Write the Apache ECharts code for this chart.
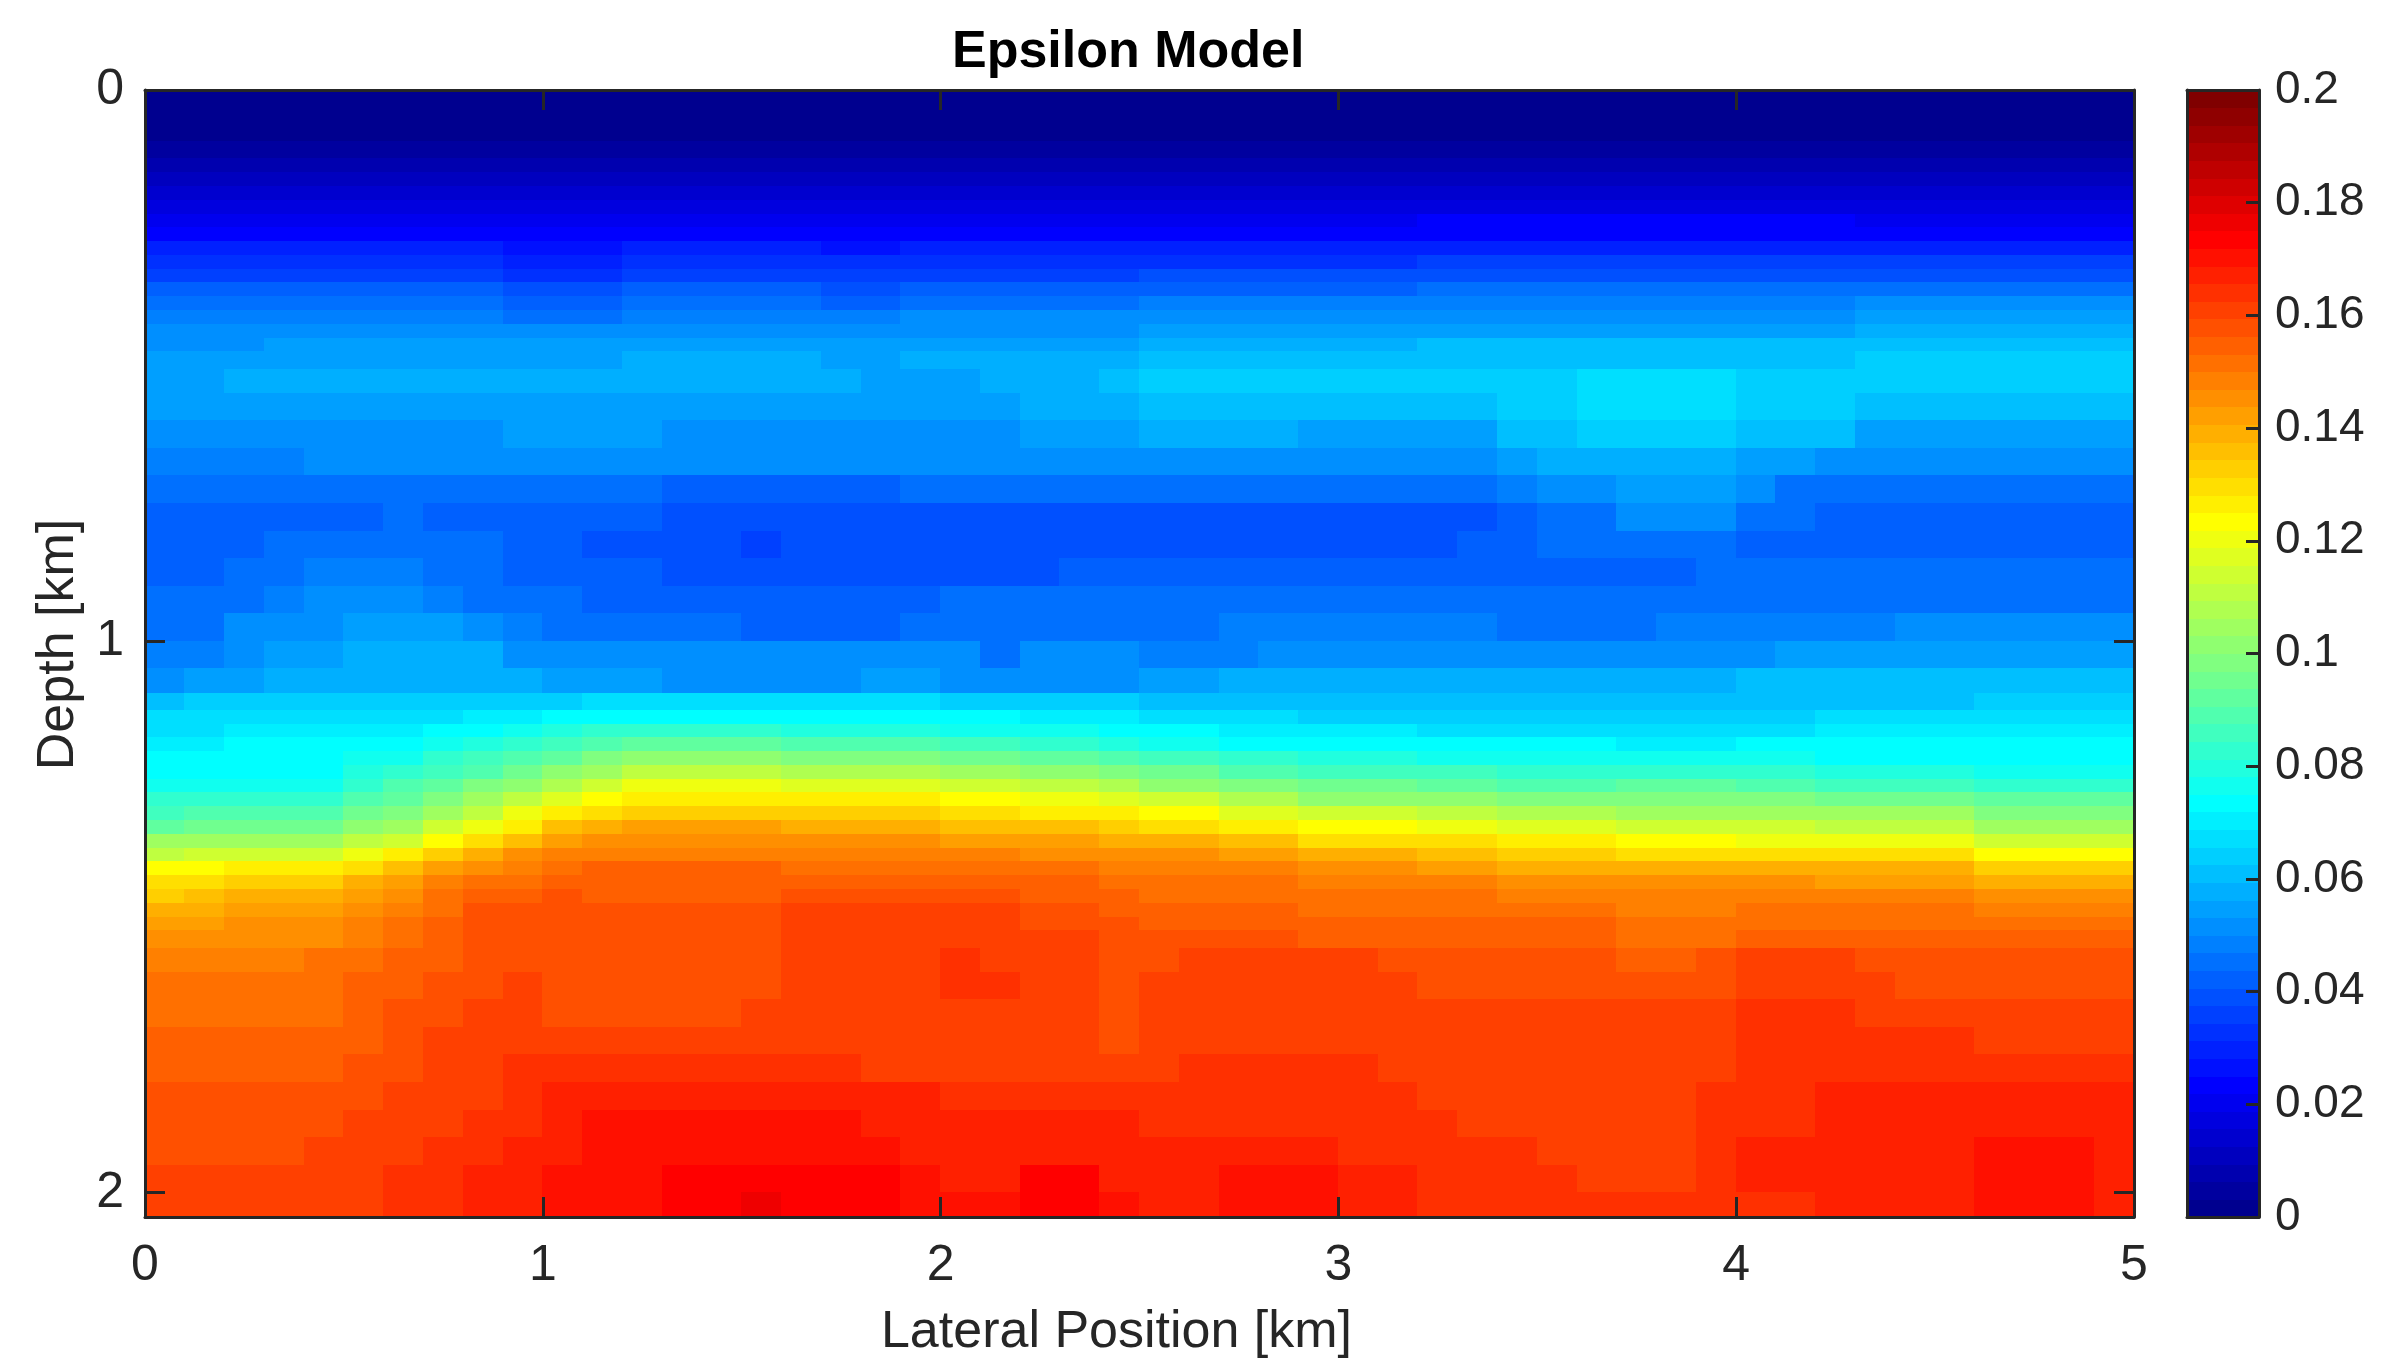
<!DOCTYPE html>
<html>
<head>
<meta charset="utf-8">
<title>Epsilon Model</title>
<script src="https://cdn.jsdelivr.net/npm/echarts@6.0.0/dist/echarts.min.js"></script>
<style>
  html, body { margin: 0; padding: 0; background: #ffffff; }
  #chart { width: 2381px; height: 1367px; }
</style>
</head>
<body>
<div id="chart"></div>
<script>
// Cell centres of the epsilon grid (km); rows are finer where epsilon changes quickly with depth
const lateralKm = [0.05,0.15,0.25,0.35,0.45,0.55,0.65,0.75,0.85,0.95,1.05,1.15,1.25,1.35,1.45,1.55,1.65,1.75,1.85,1.95,2.05,2.15,2.25,2.35,2.45,2.55,2.65,2.75,2.85,2.95,3.05,3.15,3.25,3.35,3.45,3.55,3.65,3.75,3.85,3.95,4.05,4.15,4.25,4.35,4.45,4.55,4.65,4.75,4.85,4.95];
const depthKm = [0.025,0.075,
  0.1125,0.1375,0.1625,0.1875,0.2125,0.2375,0.2625,0.2875,0.3125,0.3375,0.3625,0.3875,0.4125,0.4375,0.4625,0.4875,
  0.525,0.575,0.625,0.675,0.725,0.775,0.825,0.875,0.925,0.975,1.025,1.075,
  1.1125,1.1375,1.1625,1.1875,1.2125,1.2375,1.2625,1.2875,1.3125,1.3375,1.3625,1.3875,1.4125,1.4375,1.4625,1.4875,1.5125,1.5375,
  1.575,1.625,1.675,1.725,1.775,1.825,1.875,1.925,1.975,2.025];

// Epsilon, one row per depth, one entry per lateral position
const epsilon = [
[0.001,0.001,0.001,0.001,0.001,0.001,0.001,0.001,0.001,0.001, 0.001,0.001,0.001,0.001,0.001,0.001,0.001,0.001,0.001,0.001, 0.001,0.001,0.001,0.001,0.001,0.001,0.001,0.001,0.001,0.001, 0.001,0.001,0.001,0.001,0.001,0.001,0.001,0.001,0.001,0.001, 0.001,0.001,0.001,0.001,0.001,0.001,0.001,0.001,0.001,0.001],
[0.002,0.002,0.002,0.002,0.002,0.002,0.002,0.002,0.002,0.002, 0.002,0.002,0.002,0.002,0.002,0.002,0.002,0.002,0.002,0.002, 0.002,0.002,0.002,0.002,0.002,0.002,0.002,0.002,0.002,0.002, 0.002,0.002,0.002,0.002,0.002,0.002,0.002,0.002,0.002,0.002, 0.002,0.002,0.002,0.002,0.002,0.002,0.002,0.002,0.002,0.002],
[0.005,0.005,0.005,0.005,0.005,0.005,0.005,0.005,0.005,0.005, 0.005,0.005,0.005,0.005,0.005,0.005,0.005,0.005,0.005,0.005, 0.005,0.005,0.005,0.005,0.005,0.005,0.005,0.005,0.005,0.005, 0.005,0.005,0.005,0.005,0.005,0.005,0.005,0.005,0.005,0.005, 0.005,0.005,0.005,0.005,0.005,0.005,0.005,0.005,0.005,0.005],
[0.008,0.008,0.008,0.008,0.008,0.008,0.008,0.008,0.008,0.008, 0.008,0.008,0.008,0.008,0.008,0.008,0.008,0.008,0.008,0.008, 0.008,0.008,0.008,0.008,0.008,0.008,0.008,0.008,0.008,0.008, 0.008,0.008,0.008,0.008,0.008,0.008,0.008,0.008,0.008,0.008, 0.008,0.008,0.008,0.008,0.008,0.008,0.008,0.008,0.008,0.008],
[0.011,0.011,0.011,0.011,0.011,0.011,0.011,0.011,0.011,0.011, 0.011,0.011,0.011,0.011,0.011,0.011,0.011,0.011,0.011,0.011, 0.011,0.011,0.011,0.011,0.011,0.011,0.011,0.011,0.011,0.011, 0.011,0.011,0.012,0.012,0.012,0.012,0.012,0.012,0.012,0.012, 0.012,0.012,0.012,0.011,0.011,0.011,0.011,0.011,0.011,0.011],
[0.014,0.014,0.014,0.014,0.014,0.014,0.014,0.014,0.014,0.014, 0.014,0.014,0.014,0.014,0.014,0.014,0.014,0.014,0.014,0.014, 0.014,0.014,0.014,0.014,0.014,0.014,0.014,0.014,0.014,0.014, 0.014,0.014,0.015,0.015,0.015,0.015,0.015,0.015,0.015,0.015, 0.015,0.015,0.015,0.014,0.014,0.014,0.014,0.014,0.014,0.014],
[0.017,0.017,0.017,0.017,0.017,0.017,0.017,0.017,0.017,0.017, 0.017,0.017,0.017,0.017,0.017,0.017,0.017,0.017,0.017,0.017, 0.017,0.017,0.017,0.017,0.017,0.017,0.017,0.017,0.017,0.017, 0.017,0.017,0.018,0.018,0.018,0.018,0.018,0.018,0.018,0.018, 0.018,0.018,0.018,0.017,0.017,0.017,0.017,0.017,0.017,0.017],
[0.020,0.020,0.020,0.020,0.020,0.020,0.020,0.020,0.020,0.020, 0.020,0.020,0.020,0.020,0.020,0.020,0.020,0.020,0.020,0.020, 0.020,0.020,0.020,0.020,0.020,0.021,0.021,0.021,0.021,0.021, 0.021,0.021,0.023,0.023,0.023,0.023,0.023,0.023,0.023,0.023, 0.023,0.023,0.023,0.021,0.021,0.021,0.021,0.021,0.021,0.021],
[0.023,0.023,0.023,0.023,0.023,0.023,0.023,0.023,0.023,0.023, 0.023,0.023,0.023,0.023,0.023,0.023,0.023,0.023,0.023,0.023, 0.023,0.023,0.023,0.023,0.023,0.023,0.023,0.023,0.023,0.023, 0.023,0.023,0.024,0.024,0.024,0.024,0.024,0.024,0.024,0.024, 0.024,0.024,0.024,0.023,0.023,0.023,0.023,0.023,0.023,0.023],
[0.030,0.030,0.030,0.030,0.030,0.030,0.030,0.030,0.030,0.027, 0.027,0.027,0.029,0.029,0.029,0.029,0.029,0.028,0.028,0.029, 0.029,0.029,0.029,0.029,0.029,0.030,0.030,0.030,0.030,0.030, 0.030,0.030,0.031,0.031,0.031,0.031,0.031,0.031,0.031,0.031, 0.031,0.031,0.031,0.031,0.031,0.031,0.031,0.031,0.031,0.031],
[0.034,0.034,0.034,0.034,0.034,0.034,0.034,0.034,0.034,0.031, 0.031,0.031,0.033,0.033,0.033,0.033,0.033,0.032,0.032,0.033, 0.033,0.033,0.033,0.033,0.033,0.034,0.034,0.034,0.034,0.034, 0.034,0.034,0.035,0.035,0.035,0.035,0.035,0.035,0.035,0.035, 0.035,0.035,0.035,0.035,0.035,0.035,0.035,0.035,0.035,0.035],
[0.037,0.037,0.037,0.037,0.037,0.037,0.037,0.037,0.037,0.034, 0.034,0.034,0.037,0.037,0.037,0.037,0.037,0.035,0.035,0.037, 0.037,0.037,0.037,0.037,0.037,0.038,0.038,0.038,0.038,0.038, 0.038,0.038,0.039,0.039,0.039,0.039,0.039,0.039,0.039,0.039, 0.039,0.039,0.039,0.040,0.040,0.040,0.040,0.040,0.040,0.040],
[0.041,0.041,0.041,0.041,0.041,0.041,0.041,0.041,0.041,0.038, 0.038,0.038,0.041,0.041,0.041,0.041,0.041,0.039,0.039,0.042, 0.042,0.042,0.042,0.042,0.042,0.043,0.043,0.043,0.043,0.043, 0.043,0.043,0.044,0.044,0.044,0.044,0.044,0.044,0.044,0.044, 0.044,0.044,0.044,0.046,0.046,0.046,0.046,0.046,0.046,0.046],
[0.044,0.044,0.044,0.045,0.045,0.045,0.045,0.045,0.045,0.042, 0.042,0.042,0.045,0.045,0.045,0.045,0.045,0.043,0.043,0.046, 0.046,0.046,0.046,0.046,0.046,0.047,0.047,0.047,0.047,0.047, 0.047,0.047,0.048,0.048,0.048,0.048,0.048,0.048,0.048,0.048, 0.048,0.048,0.048,0.050,0.050,0.050,0.050,0.050,0.050,0.050],
[0.047,0.047,0.047,0.048,0.048,0.048,0.048,0.048,0.048,0.046, 0.046,0.046,0.048,0.048,0.048,0.048,0.048,0.047,0.047,0.050, 0.050,0.050,0.050,0.050,0.050,0.051,0.051,0.051,0.051,0.051, 0.051,0.051,0.053,0.053,0.053,0.053,0.053,0.053,0.053,0.053, 0.053,0.053,0.053,0.055,0.055,0.055,0.055,0.055,0.055,0.055],
[0.050,0.050,0.050,0.051,0.051,0.051,0.051,0.051,0.051,0.050, 0.050,0.050,0.051,0.051,0.051,0.051,0.051,0.051,0.051,0.053, 0.053,0.053,0.053,0.053,0.053,0.054,0.054,0.054,0.054,0.054, 0.054,0.054,0.056,0.056,0.056,0.056,0.056,0.056,0.056,0.056, 0.056,0.056,0.056,0.058,0.058,0.058,0.058,0.058,0.058,0.058],
[0.053,0.053,0.053,0.054,0.054,0.054,0.054,0.054,0.054,0.054, 0.054,0.054,0.054,0.054,0.054,0.054,0.054,0.054,0.054,0.056, 0.056,0.056,0.056,0.056,0.056,0.058,0.058,0.058,0.058,0.058, 0.058,0.058,0.060,0.060,0.060,0.060,0.060,0.060,0.060,0.060, 0.060,0.060,0.060,0.061,0.061,0.061,0.061,0.061,0.061,0.061],
[0.054,0.054,0.054,0.056,0.056,0.056,0.056,0.056,0.056,0.056, 0.056,0.056,0.057,0.057,0.057,0.057,0.057,0.056,0.056,0.058, 0.058,0.058,0.058,0.058,0.058,0.060,0.060,0.060,0.060,0.060, 0.060,0.060,0.062,0.062,0.062,0.062,0.062,0.062,0.062,0.062, 0.062,0.062,0.062,0.064,0.064,0.064,0.064,0.064,0.064,0.064],
[0.055,0.055,0.057,0.057,0.057,0.057,0.057,0.057,0.057,0.057, 0.057,0.057,0.057,0.057,0.057,0.057,0.057,0.057,0.055,0.055, 0.055,0.058,0.058,0.058,0.060,0.063,0.063,0.063,0.063,0.063, 0.063,0.064,0.064,0.064,0.064,0.064,0.068,0.068,0.068,0.068, 0.064,0.064,0.064,0.064,0.064,0.063,0.063,0.063,0.063,0.063],
[0.054,0.054,0.054,0.056,0.056,0.056,0.056,0.056,0.056,0.056, 0.056,0.056,0.056,0.056,0.056,0.056,0.056,0.055,0.055,0.055, 0.055,0.055,0.058,0.058,0.058,0.060,0.060,0.060,0.060,0.060, 0.060,0.060,0.060,0.060,0.063,0.063,0.068,0.068,0.068,0.068, 0.063,0.063,0.063,0.060,0.060,0.060,0.060,0.060,0.060,0.060],
[0.052,0.052,0.052,0.053,0.053,0.053,0.053,0.053,0.053,0.055, 0.055,0.055,0.055,0.053,0.053,0.053,0.053,0.052,0.052,0.053, 0.053,0.053,0.055,0.055,0.055,0.057,0.057,0.057,0.057,0.056, 0.056,0.056,0.056,0.056,0.060,0.060,0.064,0.064,0.064,0.064, 0.060,0.060,0.060,0.056,0.056,0.056,0.056,0.056,0.056,0.056],
[0.048,0.048,0.048,0.048,0.050,0.050,0.050,0.050,0.050,0.050, 0.050,0.050,0.050,0.050,0.050,0.050,0.050,0.050,0.050,0.050, 0.052,0.052,0.052,0.052,0.052,0.053,0.053,0.053,0.052,0.052, 0.052,0.052,0.052,0.052,0.055,0.059,0.059,0.059,0.059,0.059, 0.055,0.055,0.052,0.052,0.052,0.052,0.052,0.052,0.052,0.052],
[0.045,0.046,0.046,0.046,0.046,0.046,0.046,0.046,0.046,0.046, 0.046,0.045,0.045,0.043,0.043,0.043,0.043,0.043,0.043,0.045, 0.045,0.045,0.045,0.045,0.045,0.045,0.045,0.044,0.044,0.044, 0.044,0.044,0.044,0.044,0.048,0.052,0.052,0.055,0.055,0.055, 0.052,0.046,0.046,0.046,0.046,0.046,0.046,0.046,0.046,0.046],
[0.043,0.043,0.043,0.043,0.043,0.043,0.045,0.043,0.042,0.042, 0.042,0.042,0.041,0.039,0.039,0.039,0.039,0.039,0.039,0.039, 0.039,0.039,0.039,0.039,0.040,0.040,0.040,0.040,0.040,0.040, 0.040,0.040,0.040,0.040,0.043,0.046,0.046,0.050,0.050,0.050, 0.045,0.045,0.043,0.043,0.043,0.043,0.043,0.043,0.043,0.043],
[0.043,0.043,0.043,0.044,0.044,0.046,0.046,0.046,0.044,0.042, 0.042,0.039,0.039,0.039,0.039,0.036,0.039,0.039,0.039,0.039, 0.039,0.039,0.039,0.039,0.040,0.040,0.040,0.040,0.040,0.040, 0.040,0.040,0.040,0.043,0.043,0.045,0.045,0.045,0.045,0.045, 0.043,0.043,0.043,0.043,0.043,0.043,0.043,0.043,0.043,0.043],
[0.043,0.043,0.044,0.044,0.047,0.047,0.048,0.045,0.045,0.043, 0.041,0.041,0.041,0.040,0.040,0.040,0.040,0.040,0.040,0.040, 0.040,0.040,0.040,0.042,0.042,0.041,0.041,0.041,0.041,0.043, 0.043,0.043,0.043,0.043,0.043,0.043,0.043,0.043,0.043,0.045, 0.045,0.045,0.045,0.045,0.045,0.045,0.045,0.045,0.045,0.045],
[0.044,0.045,0.045,0.048,0.050,0.050,0.052,0.048,0.046,0.044, 0.044,0.042,0.042,0.042,0.042,0.042,0.042,0.042,0.042,0.042, 0.044,0.044,0.044,0.044,0.044,0.044,0.045,0.045,0.045,0.045, 0.045,0.045,0.044,0.044,0.044,0.044,0.044,0.044,0.044,0.045, 0.045,0.045,0.046,0.046,0.046,0.046,0.046,0.046,0.046,0.046],
[0.045,0.046,0.050,0.050,0.053,0.055,0.055,0.055,0.052,0.048, 0.045,0.045,0.045,0.045,0.045,0.043,0.043,0.043,0.043,0.045, 0.046,0.046,0.046,0.046,0.046,0.046,0.046,0.048,0.048,0.048, 0.048,0.048,0.048,0.048,0.046,0.046,0.046,0.046,0.048,0.048, 0.048,0.048,0.048,0.048,0.050,0.050,0.050,0.050,0.050,0.050],
[0.048,0.048,0.052,0.055,0.055,0.057,0.057,0.057,0.057,0.053, 0.053,0.052,0.052,0.052,0.052,0.050,0.050,0.050,0.050,0.050, 0.050,0.046,0.050,0.050,0.050,0.048,0.048,0.048,0.050,0.050, 0.050,0.052,0.052,0.052,0.052,0.052,0.053,0.053,0.053,0.053, 0.053,0.055,0.055,0.055,0.055,0.056,0.056,0.056,0.056,0.056],
[0.050,0.055,0.055,0.058,0.058,0.058,0.058,0.057,0.057,0.057, 0.055,0.055,0.055,0.053,0.053,0.053,0.053,0.053,0.055,0.055, 0.053,0.053,0.053,0.053,0.053,0.055,0.055,0.057,0.057,0.057, 0.057,0.057,0.057,0.058,0.058,0.058,0.058,0.058,0.057,0.057, 0.060,0.060,0.060,0.060,0.060,0.060,0.060,0.060,0.060,0.060],
[0.062,0.063,0.064,0.064,0.064,0.064,0.063,0.064,0.064,0.065, 0.065,0.067,0.068,0.068,0.068,0.068,0.066,0.066,0.066,0.066, 0.065,0.065,0.064,0.064,0.063,0.062,0.062,0.062,0.062,0.061, 0.061,0.061,0.061,0.061,0.061,0.061,0.061,0.060,0.060,0.060, 0.061,0.061,0.062,0.062,0.062,0.062,0.063,0.063,0.063,0.063],
[0.067,0.067,0.066,0.066,0.066,0.067,0.067,0.068,0.069,0.070, 0.072,0.074,0.075,0.075,0.075,0.075,0.073,0.073,0.073,0.073, 0.072,0.072,0.070,0.070,0.069,0.067,0.067,0.066,0.066,0.064, 0.064,0.064,0.064,0.064,0.064,0.064,0.064,0.063,0.063,0.063, 0.065,0.065,0.066,0.066,0.066,0.066,0.067,0.067,0.067,0.067],
[0.067,0.068,0.069,0.069,0.069,0.070,0.071,0.073,0.075,0.077, 0.079,0.082,0.084,0.084,0.084,0.084,0.080,0.080,0.080,0.080, 0.078,0.078,0.076,0.076,0.074,0.072,0.072,0.070,0.070,0.069, 0.069,0.069,0.068,0.068,0.068,0.068,0.068,0.067,0.067,0.067, 0.068,0.068,0.069,0.069,0.069,0.069,0.070,0.070,0.070,0.070],
[0.070,0.071,0.072,0.072,0.072,0.073,0.074,0.077,0.080,0.083, 0.086,0.090,0.093,0.093,0.093,0.093,0.089,0.089,0.089,0.089, 0.087,0.087,0.084,0.084,0.081,0.078,0.078,0.075,0.075,0.073, 0.073,0.073,0.072,0.072,0.072,0.072,0.072,0.071,0.071,0.071, 0.072,0.072,0.072,0.072,0.072,0.072,0.072,0.072,0.072,0.072],
[0.072,0.072,0.073,0.073,0.073,0.076,0.078,0.082,0.085,0.089, 0.093,0.098,0.103,0.103,0.103,0.103,0.098,0.098,0.098,0.098, 0.096,0.096,0.093,0.093,0.090,0.086,0.086,0.082,0.082,0.079, 0.079,0.079,0.078,0.078,0.077,0.077,0.077,0.076,0.076,0.076, 0.076,0.076,0.075,0.075,0.075,0.075,0.074,0.074,0.074,0.074],
[0.074,0.074,0.074,0.074,0.074,0.079,0.083,0.087,0.090,0.095, 0.100,0.106,0.112,0.112,0.112,0.112,0.107,0.107,0.107,0.107, 0.104,0.104,0.101,0.101,0.098,0.094,0.094,0.090,0.090,0.086, 0.086,0.086,0.085,0.085,0.083,0.083,0.083,0.083,0.083,0.083, 0.082,0.082,0.080,0.080,0.080,0.080,0.078,0.078,0.078,0.078],
[0.077,0.078,0.078,0.078,0.078,0.083,0.088,0.093,0.097,0.103, 0.108,0.115,0.121,0.121,0.121,0.121,0.117,0.117,0.117,0.117, 0.114,0.114,0.110,0.110,0.107,0.103,0.103,0.099,0.099,0.094, 0.094,0.094,0.092,0.092,0.090,0.090,0.090,0.092,0.092,0.092, 0.090,0.090,0.087,0.087,0.087,0.087,0.084,0.084,0.084,0.084],
[0.083,0.083,0.083,0.083,0.083,0.088,0.093,0.099,0.104,0.111, 0.117,0.123,0.128,0.128,0.128,0.128,0.125,0.125,0.125,0.125, 0.123,0.123,0.120,0.120,0.117,0.113,0.113,0.108,0.108,0.103, 0.103,0.103,0.100,0.100,0.098,0.098,0.098,0.099,0.099,0.099, 0.097,0.097,0.095,0.095,0.095,0.095,0.091,0.091,0.091,0.091],
[0.087,0.088,0.088,0.088,0.088,0.094,0.099,0.106,0.112,0.120, 0.127,0.130,0.133,0.133,0.133,0.133,0.132,0.132,0.132,0.132, 0.130,0.130,0.128,0.128,0.125,0.122,0.122,0.118,0.118,0.113, 0.113,0.113,0.110,0.110,0.107,0.107,0.107,0.106,0.106,0.106, 0.105,0.105,0.104,0.104,0.104,0.104,0.099,0.099,0.099,0.099],
[0.093,0.094,0.095,0.095,0.095,0.100,0.106,0.114,0.121,0.128, 0.135,0.138,0.141,0.141,0.141,0.141,0.139,0.139,0.139,0.139, 0.137,0.137,0.135,0.135,0.133,0.130,0.130,0.127,0.127,0.123, 0.123,0.123,0.120,0.120,0.117,0.117,0.117,0.114,0.114,0.114, 0.113,0.113,0.112,0.112,0.112,0.112,0.106,0.106,0.106,0.106],
[0.105,0.104,0.104,0.104,0.104,0.110,0.115,0.123,0.130,0.136, 0.142,0.144,0.145,0.145,0.145,0.145,0.144,0.144,0.144,0.144, 0.143,0.143,0.141,0.141,0.140,0.138,0.138,0.135,0.135,0.131, 0.131,0.131,0.129,0.129,0.126,0.126,0.126,0.122,0.122,0.122, 0.121,0.121,0.120,0.120,0.120,0.120,0.113,0.113,0.113,0.113],
[0.111,0.113,0.114,0.114,0.114,0.120,0.125,0.132,0.139,0.144, 0.148,0.148,0.148,0.148,0.148,0.148,0.148,0.148,0.148,0.148, 0.147,0.147,0.146,0.146,0.146,0.145,0.145,0.142,0.142,0.138, 0.138,0.138,0.136,0.136,0.134,0.134,0.134,0.131,0.131,0.131, 0.131,0.131,0.131,0.131,0.131,0.131,0.122,0.122,0.122,0.122],
[0.123,0.124,0.125,0.125,0.125,0.130,0.135,0.141,0.146,0.150, 0.153,0.154,0.155,0.155,0.155,0.155,0.153,0.153,0.153,0.153, 0.152,0.152,0.151,0.151,0.150,0.149,0.149,0.147,0.147,0.144, 0.144,0.144,0.142,0.142,0.140,0.140,0.140,0.139,0.139,0.139, 0.139,0.139,0.138,0.138,0.138,0.138,0.132,0.132,0.132,0.132],
[0.130,0.131,0.133,0.133,0.133,0.138,0.142,0.147,0.151,0.153, 0.155,0.155,0.155,0.155,0.155,0.155,0.155,0.155,0.155,0.155, 0.155,0.155,0.154,0.154,0.153,0.152,0.152,0.151,0.151,0.149, 0.149,0.149,0.148,0.148,0.146,0.146,0.146,0.144,0.144,0.144, 0.144,0.144,0.143,0.143,0.143,0.143,0.139,0.139,0.139,0.139],
[0.134,0.136,0.138,0.138,0.138,0.142,0.146,0.151,0.155,0.156, 0.157,0.156,0.155,0.155,0.155,0.155,0.157,0.157,0.157,0.157, 0.157,0.157,0.156,0.156,0.154,0.152,0.152,0.152,0.152,0.152, 0.152,0.152,0.151,0.151,0.150,0.150,0.150,0.148,0.148,0.148, 0.148,0.148,0.148,0.148,0.148,0.148,0.145,0.145,0.145,0.145],
[0.139,0.140,0.142,0.142,0.142,0.146,0.149,0.153,0.157,0.158, 0.158,0.158,0.158,0.158,0.158,0.158,0.160,0.160,0.160,0.160, 0.160,0.160,0.158,0.158,0.156,0.154,0.154,0.154,0.154,0.153, 0.153,0.153,0.153,0.153,0.152,0.152,0.152,0.150,0.150,0.150, 0.151,0.151,0.151,0.151,0.151,0.151,0.149,0.149,0.149,0.149],
[0.142,0.143,0.144,0.144,0.144,0.148,0.151,0.155,0.158,0.158, 0.158,0.158,0.158,0.158,0.158,0.158,0.161,0.161,0.161,0.161, 0.160,0.160,0.159,0.159,0.157,0.155,0.155,0.155,0.155,0.155, 0.155,0.155,0.155,0.155,0.154,0.154,0.154,0.152,0.152,0.152, 0.153,0.153,0.153,0.153,0.153,0.153,0.152,0.152,0.152,0.152],
[0.145,0.146,0.146,0.146,0.146,0.150,0.153,0.156,0.159,0.159, 0.158,0.158,0.158,0.158,0.158,0.158,0.161,0.161,0.161,0.161, 0.161,0.161,0.160,0.160,0.158,0.157,0.157,0.157,0.157,0.156, 0.156,0.156,0.156,0.156,0.156,0.156,0.156,0.153,0.153,0.153, 0.155,0.155,0.156,0.156,0.156,0.156,0.154,0.154,0.154,0.154],
[0.148,0.149,0.149,0.150,0.151,0.152,0.154,0.156,0.158,0.159, 0.158,0.158,0.158,0.158,0.158,0.158,0.161,0.161,0.161,0.161, 0.163,0.162,0.161,0.160,0.158,0.158,0.161,0.161,0.161,0.161, 0.161,0.158,0.158,0.158,0.158,0.158,0.158,0.156,0.156,0.157, 0.161,0.161,0.161,0.158,0.158,0.158,0.158,0.157,0.157,0.157],
[0.151,0.152,0.152,0.152,0.153,0.154,0.156,0.158,0.159,0.160, 0.158,0.158,0.158,0.158,0.158,0.158,0.161,0.161,0.161,0.161, 0.164,0.163,0.161,0.160,0.158,0.160,0.161,0.161,0.161,0.161, 0.161,0.161,0.159,0.159,0.159,0.159,0.159,0.159,0.159,0.158, 0.161,0.161,0.161,0.161,0.159,0.159,0.159,0.158,0.158,0.158],
[0.152,0.152,0.152,0.153,0.153,0.155,0.157,0.159,0.161,0.160, 0.159,0.159,0.159,0.159,0.159,0.160,0.161,0.161,0.161,0.161, 0.161,0.161,0.161,0.160,0.158,0.160,0.161,0.161,0.161,0.161, 0.161,0.161,0.161,0.161,0.161,0.161,0.161,0.161,0.160,0.161, 0.163,0.163,0.163,0.162,0.162,0.161,0.161,0.161,0.161,0.161],
[0.154,0.154,0.154,0.155,0.155,0.156,0.158,0.160,0.161,0.162, 0.161,0.161,0.161,0.161,0.161,0.161,0.161,0.161,0.161,0.161, 0.161,0.161,0.161,0.161,0.159,0.161,0.161,0.161,0.161,0.161, 0.161,0.161,0.161,0.161,0.161,0.161,0.161,0.161,0.161,0.161, 0.164,0.164,0.164,0.164,0.163,0.163,0.162,0.162,0.162,0.162],
[0.155,0.155,0.155,0.155,0.156,0.157,0.158,0.160,0.161,0.163, 0.164,0.164,0.164,0.164,0.164,0.164,0.164,0.164,0.162,0.162, 0.162,0.162,0.162,0.162,0.162,0.162,0.164,0.164,0.164,0.164, 0.163,0.161,0.161,0.161,0.161,0.161,0.161,0.161,0.161,0.162, 0.164,0.164,0.164,0.164,0.164,0.164,0.164,0.164,0.164,0.164],
[0.158,0.158,0.158,0.158,0.158,0.159,0.160,0.161,0.162,0.164, 0.166,0.167,0.167,0.167,0.167,0.167,0.167,0.167,0.166,0.166, 0.164,0.164,0.164,0.164,0.163,0.164,0.164,0.164,0.164,0.164, 0.164,0.163,0.161,0.161,0.161,0.161,0.161,0.161,0.161,0.163, 0.164,0.164,0.167,0.167,0.167,0.167,0.167,0.167,0.166,0.166],
[0.158,0.158,0.158,0.158,0.159,0.160,0.161,0.162,0.164,0.165, 0.167,0.169,0.169,0.169,0.169,0.169,0.169,0.169,0.168,0.167, 0.167,0.167,0.166,0.166,0.166,0.165,0.165,0.165,0.165,0.165, 0.164,0.164,0.164,0.161,0.161,0.161,0.161,0.161,0.161,0.164, 0.164,0.164,0.167,0.167,0.167,0.167,0.167,0.167,0.167,0.167],
[0.158,0.158,0.158,0.158,0.160,0.161,0.162,0.163,0.165,0.167, 0.168,0.170,0.170,0.171,0.171,0.171,0.171,0.171,0.170,0.167, 0.167,0.167,0.168,0.168,0.167,0.167,0.167,0.168,0.168,0.168, 0.165,0.165,0.164,0.164,0.164,0.161,0.161,0.161,0.161,0.164, 0.167,0.167,0.167,0.167,0.167,0.167,0.170,0.170,0.170,0.167],
[0.161,0.161,0.161,0.161,0.161,0.162,0.163,0.164,0.166,0.168, 0.169,0.170,0.170,0.173,0.173,0.173,0.173,0.173,0.173,0.170, 0.168,0.168,0.172,0.172,0.168,0.167,0.168,0.170,0.170,0.170, 0.167,0.167,0.165,0.165,0.165,0.164,0.162,0.162,0.162,0.164, 0.166,0.166,0.167,0.167,0.167,0.167,0.170,0.170,0.170,0.168],
[0.161,0.161,0.161,0.161,0.161,0.162,0.163,0.164,0.166,0.168, 0.169,0.170,0.170,0.173,0.173,0.176,0.173,0.173,0.173,0.170, 0.169,0.169,0.173,0.173,0.169,0.167,0.167,0.170,0.170,0.170, 0.167,0.167,0.165,0.165,0.165,0.165,0.164,0.164,0.164,0.164, 0.164,0.164,0.167,0.167,0.167,0.167,0.170,0.170,0.170,0.168]
];

// Axis ticks
const lateralTicks = [0, 1, 2, 3, 4, 5];
const depthTicks = [0, 1, 2];
const epsilonTicks = [0, 0.02, 0.04, 0.06, 0.08, 0.1, 0.12, 0.14, 0.16, 0.18, 0.2];

// Colour scale and grid geometry
const EPS_MIN = 0, EPS_MAX = 0.2, LEVELS = 64;
const DEPTH_MAX = 2.044;
const CELL_W = 0.1;
const INK = '#262626';
const FONT = "'Liberation Sans', Arial, Helvetica, sans-serif";

// Row extents: halfway between neighbouring row centres
const rowTop = depthKm.map((d, i) => i === 0 ? 0 : (depthKm[i - 1] + d) / 2);
const rowBottom = depthKm.map((d, i) => i === depthKm.length - 1 ? d + (d - depthKm[i - 1]) / 2 : (d + depthKm[i + 1]) / 2);

// 64-step jet colormap
function jet(i) {
  const r = i < 24 ? 0 : i < 40 ? (i - 23) / 16 : i < 56 ? 1 : (71 - i) / 16;
  const g = i < 8 ? 0 : i < 24 ? (i - 7) / 16 : i < 40 ? 1 : i < 55 ? (55 - i) / 16 : 0;
  const b = i < 8 ? (i + 9) / 16 : i < 23 ? 1 : i < 39 ? (39 - i) / 16 : 0;
  return 'rgb(' + Math.round(r * 255) + ',' + Math.round(g * 255) + ',' + Math.round(b * 255) + ')';
}

const pieces = [];
for (let i = 0; i < LEVELS; i++) {
  const lo = EPS_MIN + (EPS_MAX - EPS_MIN) * i / LEVELS;
  const hi = EPS_MIN + (EPS_MAX - EPS_MIN) * (i + 1) / LEVELS;
  pieces.push(i === LEVELS - 1 ? { gte: lo, lte: hi, color: jet(i) } : { gte: lo, lt: hi, color: jet(i) });
}

// [lateral, depth, epsilon, row] for every cell of the field
const fieldData = [];
depthKm.forEach((d, r) => {
  lateralKm.forEach((x, c) => { fieldData.push([x, d, epsilon[r][c], r]); });
});

// colour bar levels: [low, high, mid]
const barData = pieces.map(p => {
  const lo = p.gte, hi = p.lt !== undefined ? p.lt : p.lte;
  return [lo, hi, (lo + hi) / 2];
});

function bounds(params) {
  const cs = params.coordSys;
  return { x: cs.x, y: cs.y, width: cs.width, height: cs.height };
}

function renderCell(params, api) {
  const x = api.value(0), r = api.value(3);
  const a = api.coord([x - CELL_W / 2, rowTop[r]]);
  const b = api.coord([x + CELL_W / 2, rowBottom[r]]);
  const x0 = Math.floor(Math.min(a[0], b[0])), x1 = Math.ceil(Math.max(a[0], b[0]));
  const y0 = Math.floor(Math.min(a[1], b[1])), y1 = Math.ceil(Math.max(a[1], b[1]));
  const shape = echarts.graphic.clipRectByRect({ x: x0, y: y0, width: x1 - x0, height: y1 - y0 }, bounds(params));
  return shape && { type: 'rect', shape: shape, style: { fill: api.visual('color') } };
}

function renderBar(params, api) {
  const lo = api.value(0), hi = api.value(1);
  const a = api.coord([0, hi]);
  const b = api.coord([1, lo]);
  const y0 = Math.floor(Math.min(a[1], b[1])), y1 = Math.ceil(Math.max(a[1], b[1]));
  const shape = echarts.graphic.clipRectByRect({ x: a[0], y: y0, width: b[0] - a[0], height: y1 - y0 }, bounds(params));
  return shape && { type: 'rect', shape: shape, style: { fill: api.visual('color') } };
}

const line = { onZero: false, lineStyle: { color: INK, width: 3 } };
const noSplit = { show: false };
const isTick = (list, v) => list.some(t => Math.abs(t - v) < 1e-9);

const chart = echarts.init(document.getElementById('chart'), null, { renderer: 'canvas' });
chart.setOption({
  animation: false,
  backgroundColor: '#ffffff',
  title: {
    text: 'Epsilon Model',
    left: 947, top: 22,
    textStyle: { fontSize: 52, fontWeight: 'bold', color: '#000000', fontFamily: FONT }
  },
  grid: [
    { left: 145, top: 90, width: 1989, height: 1127, outerBoundsMode: 'none' },
    { left: 2187, top: 90, width: 72, height: 1127, outerBoundsMode: 'none' }
  ],
  visualMap: {
    type: 'piecewise', show: false, dimension: 2, seriesIndex: [0, 1],
    pieces: pieces
  },
  xAxis: [
    {
      gridIndex: 0, type: 'value', position: 'bottom', min: 0, max: 5, interval: 1, z: 5,
      axisLine: line,
      axisTick: { inside: true, length: 20, lineStyle: { color: INK, width: 3 } },
      axisLabel: { margin: 24, fontSize: 50, color: INK, fontFamily: FONT,
        formatter: v => isTick(lateralTicks, v) ? String(v) : '' },
      splitLine: noSplit,
      name: 'Lateral Position [km]', nameLocation: 'middle', nameGap: 90, nameMoveOverlap: false,
      nameTextStyle: { fontSize: 52, color: INK, fontFamily: FONT, padding: [0, 46, 0, 0] }
    },
    {
      gridIndex: 0, type: 'value', position: 'top', min: 0, max: 5, interval: 1, z: 5,
      axisLine: line,
      axisTick: { inside: true, length: 20, lineStyle: { color: INK, width: 3 } },
      axisLabel: { show: false }, splitLine: noSplit
    },
    {
      gridIndex: 1, type: 'value', position: 'bottom', min: 0, max: 1, z: 5,
      axisLine: line, axisTick: { show: false }, axisLabel: { show: false }, splitLine: noSplit
    },
    {
      gridIndex: 1, type: 'value', position: 'top', min: 0, max: 1, z: 5,
      axisLine: line, axisTick: { show: false }, axisLabel: { show: false }, splitLine: noSplit
    }
  ],
  yAxis: [
    {
      gridIndex: 0, type: 'value', position: 'left', inverse: true, min: 0, max: DEPTH_MAX, interval: 1, z: 5,
      axisLine: line,
      axisTick: { inside: true, length: 20, lineStyle: { color: INK, width: 3 } },
      axisLabel: { margin: 21, fontSize: 50, color: INK, fontFamily: FONT,
        formatter: v => isTick(depthTicks, v) ? String(Math.round(v)) : '' },
      splitLine: noSplit,
      name: 'Depth [km]', nameLocation: 'middle', nameGap: 60, nameMoveOverlap: false,
      nameTextStyle: { fontSize: 52, color: INK, fontFamily: FONT, padding: [0, 0, 0, 18] }
    },
    {
      gridIndex: 0, type: 'value', position: 'right', inverse: true, min: 0, max: DEPTH_MAX, interval: 1, z: 5,
      axisLine: line,
      axisTick: { inside: true, length: 20, lineStyle: { color: INK, width: 3 } },
      axisLabel: { show: false }, splitLine: noSplit
    },
    {
      gridIndex: 1, type: 'value', position: 'left', min: EPS_MIN, max: EPS_MAX, interval: 0.02, z: 5,
      axisLine: line, axisTick: { show: false }, axisLabel: { show: false }, splitLine: noSplit
    },
    {
      gridIndex: 1, type: 'value', position: 'right', min: EPS_MIN, max: EPS_MAX, interval: 0.02, z: 5,
      axisLine: line,
      axisTick: { inside: true, length: 13, lineStyle: { color: INK, width: 3 } },
      axisLabel: { margin: 16, fontSize: 46, color: INK, fontFamily: FONT,
        formatter: v => isTick(epsilonTicks, v) ? String(+v.toFixed(2)) : '' },
      splitLine: noSplit
    }
  ],
  series: [
    {
      type: 'custom', name: 'epsilon', xAxisIndex: 0, yAxisIndex: 0,
      renderItem: renderCell, data: fieldData, encode: { x: 0, y: 1 }, z: 2, silent: true
    },
    {
      type: 'custom', name: 'colorbar', xAxisIndex: 2, yAxisIndex: 3,
      renderItem: renderBar, data: barData, encode: { y: [0, 1] }, z: 2, silent: true
    }
  ]
});
</script>
</body>
</html>
